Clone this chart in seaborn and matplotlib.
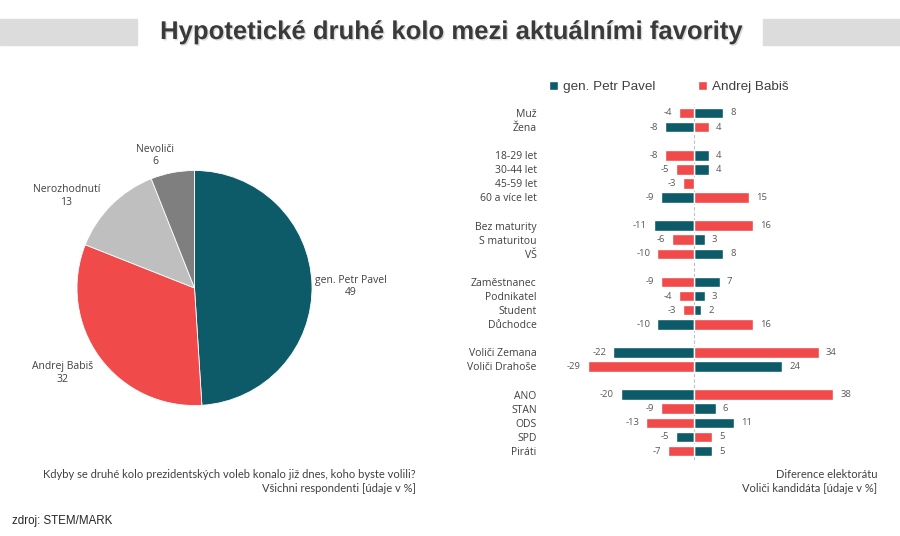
import numpy as np
import pandas as pd
import matplotlib
matplotlib.use("Agg")
import matplotlib.pyplot as plt
import matplotlib.patheffects as pe
from matplotlib.patches import Rectangle
import seaborn as sns

# ---------------- data ----------------
pie_labels = ["gen. Petr Pavel", "Andrej Babiš", "Nerozhodnutí", "Nevoliči"]
pie_values = [49, 32, 13, 6]

categories = ["Muž", "Žena",
              "18-29 let", "30-44 let", "45-59 let", "60 a více let",
              "Bez maturity", "S maturitou", "VŠ",
              "Zaměstnanec", "Podnikatel", "Student", "Důchodce",
              "Voliči Zemana", "Voliči Drahoše",
              "ANO", "STAN", "ODS", "SPD", "Piráti"]
group_sizes = [2, 4, 3, 4, 2, 5]
pavel = [8, -8, 4, 4, 0, -9, -11, 3, 8, 7, 3, 2, -10, -22, 24, -20, 6, 11, -5, 5]
babis = [-4, 4, -8, -5, -3, 15, 16, -6, -10, -9, -4, -3, 16, 34, -29, 38, -9, -13, 5, -7]
series_names = ["gen. Petr Pavel", "Andrej Babiš"]

TEAL = "#0D5B69"
RED = "#F04A4A"
LGRAY = "#BFBFBF"
DGRAY = "#7F7F7F"
TXT = "#404040"

sns.set_theme(style="white")
plt.rcParams["font.family"] = ["Open Sans", "DejaVu Sans"]

W, H = 900, 536
fig = plt.figure(figsize=(W / 100, H / 100), dpi=100)


def fx(px):
    return px / W


def fy(py):
    return 1 - py / H


# ---------------- title ----------------
fig.patches.append(Rectangle((0, fy(45)), fx(137), (45 - 19) / H,
                             transform=fig.transFigure, color="#DCDCDC", zorder=0))
fig.patches.append(Rectangle((fx(763), fy(45)), fx(137), (45 - 19) / H,
                             transform=fig.transFigure, color="#DCDCDC", zorder=0))
fig.text(fx(452), fy(32), "Hypotetické druhé kolo mezi aktuálními favority",
         ha="center", va="center", fontsize=18.5, fontweight="bold",
         family=["Liberation Sans", "DejaVu Sans"], color="#3A3A3A",
         path_effects=[pe.withSimplePatchShadow(offset=(1, -1), shadow_rgbFace="#b0b0b0", alpha=0.45)])

# ---------------- pie ----------------
cx, cy, r = 194.5, 288, 117.5
side = 320
axp = fig.add_axes([fx(cx - side / 2), fy(cy + side / 2), side / W, side / H])
wedges, texts = axp.pie(pie_values,
                        labels=[f"{l}\n{v}" for l, v in zip(pie_labels, pie_values)],
                        colors=[TEAL, RED, LGRAY, DGRAY], startangle=90, counterclock=False,
                        labeldistance=1.33,
                        wedgeprops=dict(linewidth=0.6, edgecolor="white"),
                        textprops=dict(fontsize=7.5, color=TXT, ha="center", va="center",
                                       multialignment="center"))
lim = side / 2 / r
axp.set_xlim(-lim, lim)
axp.set_ylim(-lim, lim)
axp.set_aspect("equal")
axp.axis("off")
# nudge label positions to the reference placement
for t, (dx, dy) in zip(texts, [(0.0, -0.03), (-0.05, 0.06), (-0.15, -0.16), (-0.085, -0.18)]):
    x, y = t.get_position()
    t.set_position((x + dx, y + dy))

# ---------------- diverging bars ----------------
pos = []
count = 0
for gi, gs in enumerate(group_sizes):
    for k in range(gs):
        pos.append(count + gi)
        count += 1

df = pd.DataFrame({
    "pos": pos * 2,
    "value": pavel + babis,
    "kandidát": [series_names[0]] * len(pavel) + [series_names[1]] * len(babis),
})

ax_left, ax_right, ax_top, ax_bot = 545, 880, 104, 460
ax = fig.add_axes([fx(ax_left), fy(ax_bot), (ax_right - ax_left) / W, (ax_bot - ax_top) / H])
sns.barplot(data=df, x="value", y="pos", hue="kandidát", hue_order=series_names,
            palette=[TEAL, RED], orient="y", native_scale=True, dodge=False,
            width=0.75, ax=ax, legend=True, saturation=1)

zero_px = 694
ppu = 3.67
ax.set_xlim(-(zero_px - ax_left) / ppu, (ax_right - zero_px) / ppu)
ppy = (451 - 113) / pos[-1]
ax.set_ylim(pos[-1] + (ax_bot - 451) / ppy, -(113 - ax_top) / ppy)
ax.axvline(0, color="#BFBFBF", lw=0.8, ls=(0, (3, 2)), zorder=0)

for c in ax.containers:
    labs = [f"{v:g}" if v != 0 else "" for v in c.datavalues]
    ax.bar_label(c, labels=labs, padding=5, fontsize=6.8, color="#595959")

ax.set_yticks(pos)
ax.set_yticklabels(categories)
ax.tick_params(axis="y", length=0, pad=6, labelsize=7.5, labelcolor=TXT)
ax.set_xticks([])
ax.set_xlabel("")
ax.set_ylabel("")
for s in ax.spines.values():
    s.set_visible(False)

leg = ax.legend(loc="center", bbox_to_anchor=(fx(669), fy(87)), bbox_transform=fig.transFigure,
                ncol=2, frameon=False, handlelength=0.6, handleheight=0.6, handletextpad=0.4,
                columnspacing=3.2, prop={"family": ["Liberation Sans", "DejaVu Sans"], "size": 9.7})
for t in leg.get_texts():
    t.set_color(TXT)

# ---------------- footnotes ----------------
foot = dict(fontsize=8, color="#404040", family=["Liberation Sans Narrow", "Lato", "DejaVu Sans"])
fig.text(fx(416), fy(475), "Kdyby se druhé kolo prezidentských voleb konalo již dnes, koho byste volili?",
         ha="right", va="center", **foot)
fig.text(fx(416), fy(489), "Všichni respondenti [údaje v %]", ha="right", va="center", **foot)
fig.text(fx(877), fy(475), "Diference elektorátu", ha="right", va="center", **foot)
fig.text(fx(877), fy(489), "Voliči kandidáta [údaje v %]", ha="right", va="center", **foot)
fig.text(fx(12), fy(521), "zdroj: STEM/MARK", ha="left", va="center", fontsize=8.3,
         family=["Liberation Sans", "DejaVu Sans"], color="#262626")

fig.savefig("out.png", dpi=100)
